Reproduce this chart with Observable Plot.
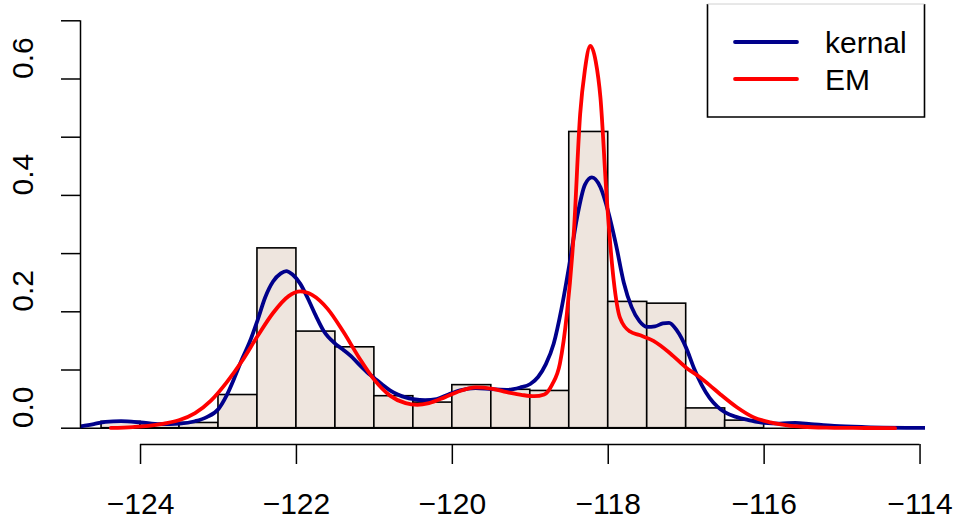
<!DOCTYPE html>
<html>
<head>
<meta charset="utf-8">
<script src="https://cdn.jsdelivr.net/npm/d3@7"></script>
<script src="https://cdn.jsdelivr.net/npm/@observablehq/plot@0.6"></script>
<style>
  html, body { margin: 0; padding: 0; background: #fff; }
  #chart svg { display: block; }
</style>
</head>
<body>
<div id="chart"></div>
<script>
// Histogram (density scale), bins of width 0.5 starting at -124.5
const binStarts = [-124.5, -124, -123.5, -123, -122.5, -122, -121.5, -121, -120.5, -120, -119.5, -119, -118.5, -118, -117.5, -117, -116.5];
const binDensity = [0.011, 0.007, 0.009, 0.057, 0.309, 0.166, 0.139, 0.055, 0.044, 0.074, 0.066, 0.064, 0.509, 0.217, 0.214, 0.034, 0.013];
const binWidth = 0.5;

// Kernel density curve ("kernal")
const kernalX = [-124.77, -124.6, -124.45, -124.25, -124.0, -123.75, -123.5, -123.3, -123.15, -123.0, -122.9, -122.8, -122.7, -122.6, -122.5, -122.4, -122.3, -122.2, -122.13, -122.05, -121.95, -121.85, -121.75, -121.65, -121.5, -121.4, -121.3, -121.2, -121.1, -121.0, -120.9, -120.8, -120.7, -120.6, -120.5, -120.35, -120.2, -120.05, -119.9, -119.7, -119.5, -119.3, -119.13, -119.0, -118.9, -118.8, -118.7, -118.6, -118.5, -118.4, -118.3, -118.21, -118.1, -118.0, -117.9, -117.8, -117.7, -117.6, -117.5, -117.4, -117.3, -117.22, -117.12, -117.0, -116.9, -116.8, -116.7, -116.6, -116.5, -116.35, -116.2, -116.0, -115.8, -115.6, -115.4, -115.1, -114.7, -113.93];
const kernalY = [0.003, 0.007, 0.011, 0.012, 0.010, 0.007, 0.008, 0.012, 0.019, 0.033, 0.055, 0.085, 0.118, 0.148, 0.185, 0.225, 0.252, 0.266, 0.270, 0.264, 0.248, 0.222, 0.193, 0.167, 0.145, 0.135, 0.124, 0.110, 0.097, 0.086, 0.075, 0.065, 0.058, 0.053, 0.050, 0.048, 0.050, 0.058, 0.065, 0.069, 0.067, 0.066, 0.070, 0.076, 0.088, 0.110, 0.145, 0.205, 0.280, 0.362, 0.418, 0.431, 0.414, 0.372, 0.315, 0.250, 0.208, 0.184, 0.174, 0.175, 0.180, 0.181, 0.168, 0.138, 0.103, 0.074, 0.052, 0.037, 0.027, 0.019, 0.014, 0.009, 0.008, 0.009, 0.007, 0.004, 0.002, 0.0005];

// EM mixture density curve
const emX = [-124.38, -124.1, -123.9, -123.7, -123.5, -123.3, -123.1, -122.9, -122.7, -122.5, -122.3, -122.1, -121.95, -121.8, -121.6, -121.4, -121.2, -121.0, -120.8, -120.6, -120.45, -120.3, -120.1, -119.9, -119.7, -119.5, -119.3, -119.1, -118.95, -118.82, -118.72, -118.62, -118.53, -118.44, -118.36, -118.3, -118.23, -118.16, -118.1, -118.02, -117.93, -117.85, -117.72, -117.6, -117.42, -117.2, -117.0, -116.85, -116.7, -116.56, -116.35, -116.14, -115.92, -115.7, -115.5, -115.2, -114.86, -114.32];
const emY = [0.0005, 0.002, 0.004, 0.008, 0.014, 0.026, 0.047, 0.078, 0.115, 0.158, 0.198, 0.227, 0.235, 0.229, 0.205, 0.166, 0.122, 0.083, 0.056, 0.043, 0.040, 0.043, 0.053, 0.064, 0.070, 0.068, 0.062, 0.057, 0.055, 0.058, 0.075, 0.111, 0.197, 0.339, 0.540, 0.615, 0.657, 0.630, 0.568, 0.397, 0.254, 0.190, 0.166, 0.160, 0.150, 0.128, 0.104, 0.090, 0.074, 0.058, 0.036, 0.019, 0.010, 0.005, 0.0025, 0.001, 0.0005, 0.0];

// Axes
const xTicks = [-124, -122, -120, -118, -116, -114];
const yTicks = [0, 0.1, 0.2, 0.3, 0.4, 0.5, 0.6, 0.7];
const yLabelTicks = [0, 0.2, 0.4, 0.6];
const xDomain = [-124.77, -113.93];
const yDomain = [-0.028, 0.728];

// Legend
const seriesNames = ["kernal", "EM"];
const seriesColors = ["#00008B", "#FF0000"];

const bins = binStarts.map((x0, i) => ({x0, x1: x0 + binWidth, y: binDensity[i]}));
const kernal = kernalX.map((x, i) => ({x, y: kernalY[i]}));
const em = emX.map((x, i) => ({x, y: emY[i]}));

const font = "'Liberation Sans', Arial, Helvetica, sans-serif";
const minus = d3.format("d");

const plot = Plot.plot({
  width: 954,
  height: 521,
  marginLeft: 80,
  marginRight: 29,
  marginTop: 4,
  marginBottom: 77,
  style: {fontFamily: font, fontSize: "30px", background: "#fff", color: "#000"},
  x: {domain: xDomain, label: null},
  y: {domain: yDomain, label: null},
  marks: [
    Plot.rectY(bins, {x1: "x0", x2: "x1", y: "y", fill: "#EEE5DE", stroke: "#000", strokeWidth: 1.6, inset: 0}),
    Plot.ruleY([0], {stroke: "#000", strokeWidth: 1.5}),
    Plot.line(kernal, {x: "x", y: "y", stroke: seriesColors[0], strokeWidth: 3.8, curve: "monotone-x", clip: true}),
    Plot.line(em, {x: "x", y: "y", stroke: seriesColors[1], strokeWidth: 3.8, curve: "monotone-x", clip: true}),
    // R-style x axis
    Plot.ruleY([yDomain[0]], {x1: xTicks[0], x2: xTicks[xTicks.length - 1], stroke: "#000", strokeWidth: 1.5}),
    Plot.axisX({ticks: xTicks, tickSize: 20, tickPadding: 28, tickFormat: d => minus(d), fontSize: 30, strokeWidth: 1.5, stroke: "#000", fill: "#000", label: null}),
    // R-style y axis
    Plot.ruleX([xDomain[0]], {y1: yTicks[0], y2: yTicks[yTicks.length - 1], stroke: "#000", strokeWidth: 1.5}),
    Plot.axisY({ticks: yTicks, tickSize: 19, tickFormat: () => "", strokeWidth: 1.5, stroke: "#000", label: null}),
    Plot.text(yLabelTicks, {y: d => d, frameAnchor: "left", dx: -57, rotate: -90, text: d => d.toFixed(1), fontSize: 30, fill: "#000"})
  ]
});

document.getElementById("chart").appendChild(plot);

// Legend box (top right, like R's legend("topright"))
const svg = d3.select(plot);
const lg = svg.append("g").attr("font-family", font).attr("font-size", 30).attr("text-anchor", "start");
lg.append("rect").attr("x", 707.5).attr("y", 4).attr("width", 217).attr("height", 113)
  .attr("fill", "#fff").attr("stroke", "none");
lg.append("path").attr("d", "M707.5,4V117H924.5V4").attr("fill", "none").attr("stroke", "#000").attr("stroke-width", 1.6);
lg.append("line").attr("x1", 707.5).attr("x2", 924.5).attr("y1", 4).attr("y2", 4).attr("stroke", "#d0d0d0").attr("stroke-width", 1);
seriesNames.forEach((name, i) => {
  const y = 42 + i * 37;
  lg.append("line").attr("x1", 735).attr("x2", 797).attr("y1", y).attr("y2", y)
    .attr("stroke", seriesColors[i]).attr("stroke-width", 3.8).attr("stroke-linecap", "round");
  lg.append("text").attr("x", 825).attr("y", y + 11).attr("fill", "#000").attr("text-anchor", "start").text(name);
});
</script>
</body>
</html>
